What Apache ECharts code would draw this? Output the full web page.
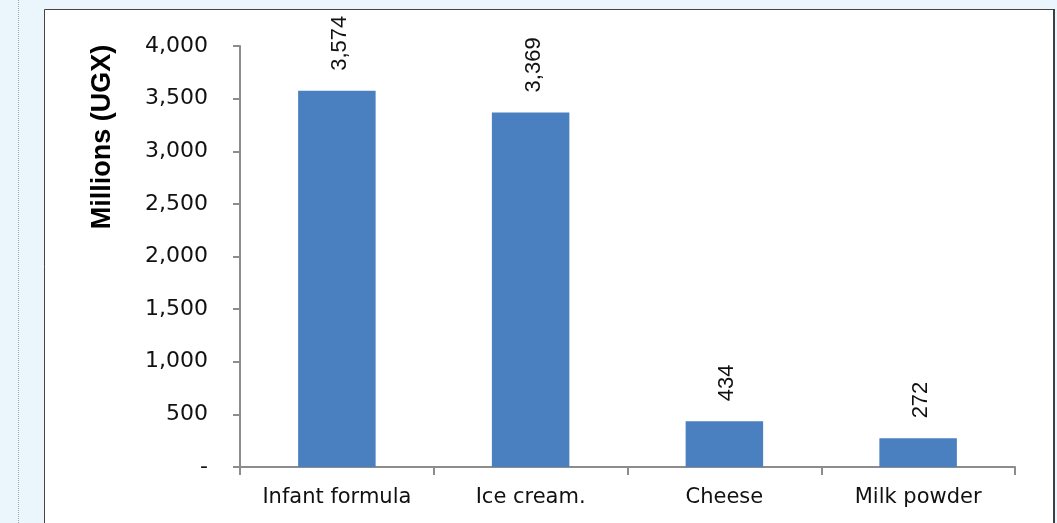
<!DOCTYPE html>
<html>
<head>
<meta charset="utf-8">
<script src="https://cdn.jsdelivr.net/npm/echarts@6/dist/echarts.min.js"></script>
<style>
html,body{margin:0;padding:0;background:#eaf5fc;}
#chart{width:1057px;height:523px;}
</style>
</head>
<body>
<div id="chart"></div>
<script>
const categories = ['Infant formula', 'Ice cream.', 'Cheese', 'Milk powder'];
const values = [3574, 3369, 434, 272];
const yTicks = [0, 500, 1000, 1500, 2000, 2500, 3000, 3500, 4000];
const yAxisTitle = 'Millions (UGX)';

const chart = echarts.init(document.getElementById('chart'), null, {renderer: 'canvas'});
const fmt = v => v === 0 ? '-' : v.toLocaleString('en-US');
const font = '"DejaVu Sans", sans-serif';
const labelFont = '"Liberation Sans", sans-serif';

chart.setOption({
  backgroundColor: '#eaf5fc',
  animation: false,
  graphic: [
    {type: 'line', z: -10, shape: {x1: 18.5, y1: 0, x2: 18.5, y2: 523},
     style: {stroke: '#9aa3aa', lineWidth: 1, lineDash: [1, 1]}},
    {type: 'rect', z: -9, shape: {x: 44.5, y: 9.5, width: 1009, height: 520},
     style: {fill: '#ffffff', stroke: '#444', lineWidth: 1}},
    {type: 'line', z: -8, shape: {x1: 1054, y1: 9, x2: 1054, y2: 523},
     style: {stroke: '#3a3f44', lineWidth: 2}},
    {type: 'text', z: 10, x: 103, y: 137, rotation: Math.PI / 2,
     style: {text: yAxisTitle, fill: '#000', fontSize: 27, fontWeight: 'bold',
             fontFamily: labelFont, textAlign: 'center', textVerticalAlign: 'middle'}}
  ],
  grid: {left: 240, right: 42, top: 46, bottom: 56, containLabel: false},
  xAxis: {
    type: 'category',
    data: categories,
    axisLine: {lineStyle: {color: '#8c8c8c', width: 2}},
    axisTick: {show: true, interval: 0, length: 8, lineStyle: {color: '#8c8c8c', width: 2}},
    axisLabel: {color: '#111', fontSize: 21, fontFamily: font, margin: 20, interval: 0, hideOverlap: false},
    splitLine: {show: false}
  },
  yAxis: {
    type: 'value',
    min: yTicks[0],
    max: yTicks[yTicks.length - 1],
    interval: 500,
    axisLine: {show: true, lineStyle: {color: '#8c8c8c', width: 2}},
    axisTick: {show: true, length: 7, lineStyle: {color: '#8c8c8c', width: 2}},
    axisLabel: {color: '#111', fontSize: 22, fontFamily: font, margin: 32, formatter: fmt},
    splitLine: {show: false}
  },
  series: [{
    type: 'bar',
    data: values,
    barWidth: '40%',
    itemStyle: {color: '#4a80c0'},
    label: {
      show: true,
      position: 'top',
      rotate: 90,
      align: 'left',
      verticalAlign: 'middle',
      distance: 20,
      offset: [0, 3],
      color: '#111',
      fontSize: 22,
      fontFamily: labelFont,
      formatter: p => fmt(p.value)
    }
  }]
});
</script>
</body>
</html>
